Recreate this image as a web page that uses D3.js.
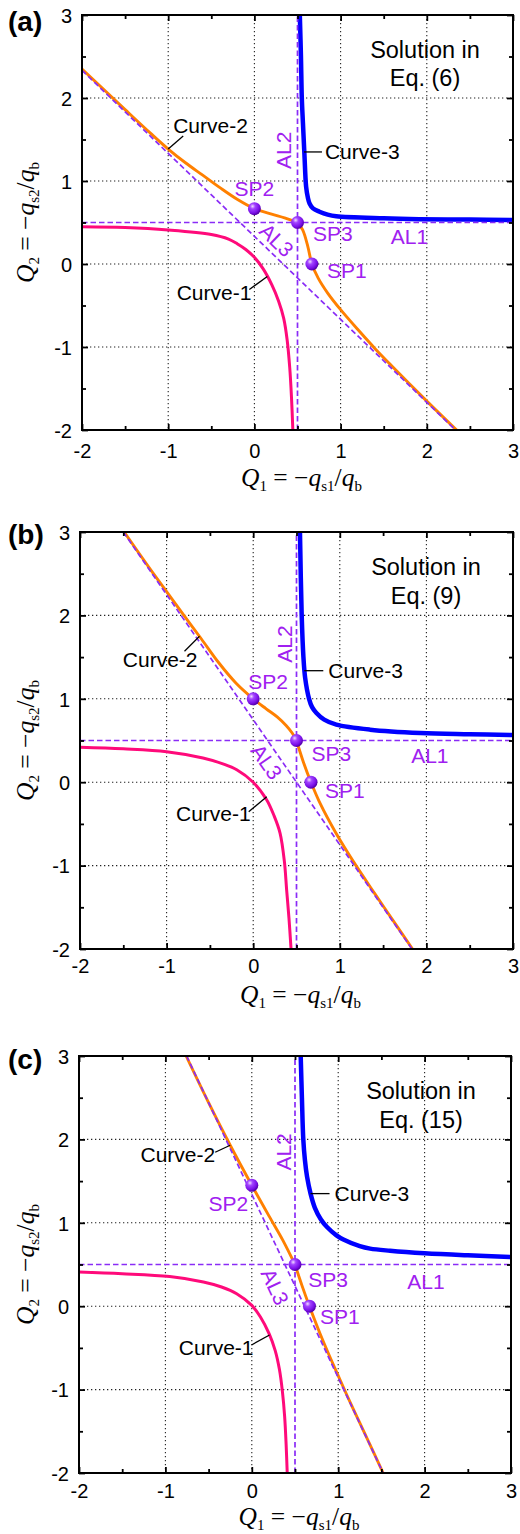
<!DOCTYPE html>
<html><head><meta charset="utf-8">
<script src="https://cdn.jsdelivr.net/npm/d3@7"></script>
<style>
html,body{margin:0;padding:0;background:#fff;}
svg{display:block;}
text{white-space:pre;}
</style></head><body>
<svg id="chart" width="520" height="1534"></svg>
<script>
// ---------------- DATA ----------------
const majorTicks = [-2, -1, 0, 1, 2, 3];
const minorTicks = [-1.5, -0.5, 0.5, 1.5, 2.5];
const tickLabels = ["-2", "-1", "0", "1", "2", "3"];
const panelLetters = ["(a)", "(b)", "(c)"];
const solutionLine1 = ["Solution in", "Solution in", "Solution in"];
const solutionLine2 = ["Eq. (6)", "Eq. (9)", "Eq. (15)"];
const curveNames = ["Curve-1", "Curve-2", "Curve-3"];
const pointNames = ["SP1", "SP2", "SP3"];
const lineNames = ["AL1", "AL2", "AL3"];

// asymptote AL1 (horizontal, Q2 value) and AL2 (vertical, Q1 value)
const al1Level = [0.5, 0.5, 0.5];
const al2Level = [0.5, 0.5, 0.5];

// ---- panel (a) ----
const al3A = [[-2, 2.333], [2.333, -2]];
const curve1A = [[-2,0.45],[-1.5,0.44],[-1,0.41],[-0.5,0.355],[-0.3,0.3],[-0.2,0.245],[-0.1,0.175],[0,0.08],[0.1,-0.055],[0.2,-0.245],[0.28,-0.445],[0.34,-0.655],[0.38,-0.915],[0.41,-1.25],[0.43,-1.6],[0.446,-2]];
const curve2UpperA = [[-2,2.35],[-1.5,1.86],[-1.2,1.57],[-1,1.385],[-0.8,1.22],[-0.6,1.07],[-0.4,0.92],[-0.2,0.78],[0,0.667],[0.2,0.6],[0.35,0.555],[0.5,0.5]];
const curve2LowerA = [[0.5,0.5],[0.56,0.41],[0.62,0.21],[0.667,0],[0.74,-0.17],[0.85,-0.35],[1.0,-0.55],[1.2,-0.79],[1.4,-1.02],[1.6,-1.235],[2,-1.652],[2.355,-2.01]];
const curve3A = [[0.527,3],[0.54,2.5],[0.55,2],[0.563,1.7],[0.58,1.33],[0.6,0.93],[0.62,0.8],[0.64,0.73],[0.68,0.67],[0.755,0.63],[0.85,0.595],[0.95,0.575],[1.5,0.55],[1.91,0.54],[2.5,0.535],[3,0.53]];
const spA = [[0.667,0],[0,0.667],[0.5,0.5]];

// ---- panel (b) ----
const al3B = [[-1.5, 3], [1.833, -2]];
const curve1B = [[-2,0.42],[-1.5,0.4],[-1,0.365],[-0.58,0.29],[-0.35,0.22],[-0.19,0.15],[0,0.0],[0.155,-0.21],[0.24,-0.4],[0.31,-0.61],[0.36,-0.95],[0.386,-1.29],[0.413,-1.63],[0.437,-2]];
const curve2UpperB = [[-1.49,3],[-1.2,2.57],[-1,2.285],[-0.8,2.0],[-0.6,1.72],[-0.4,1.435],[-0.2,1.19],[0,1.0],[0.15,0.88],[0.28,0.78],[0.38,0.68],[0.45,0.59],[0.5,0.5]];
const curve2LowerB = [[0.5,0.5],[0.58,0.24],[0.667,0],[0.78,-0.27],[0.95,-0.6],[1.15,-0.94],[1.4,-1.33],[1.6,-1.635],[1.84,-2]];
const curve3B = [[0.54,3],[0.56,2],[0.58,1.5],[0.6,1.25],[0.645,1.0],[0.68,0.9],[0.73,0.83],[0.82,0.75],[0.96,0.69],[1.35,0.63],[1.93,0.59],[2.5,0.575],[3,0.565]];
const spB = [[0.667,0],[0,1.0],[0.5,0.5]];

// ---- panel (c) ----
const al3C = [[-0.755, 3], [1.52, -2]];
const curve1C = [[-2,0.41],[-1.5,0.39],[-0.95,0.355],[-0.56,0.29],[-0.35,0.23],[-0.175,0.15],[0,0.01],[0.1,-0.13],[0.2,-0.33],[0.27,-0.53],[0.32,-0.76],[0.355,-1.03],[0.38,-1.32],[0.397,-1.65],[0.41,-2]];
const curve2UpperC = [[-0.76,3],[-0.5,2.44],[-0.25,1.93],[0,1.45],[0.2,1.08],[0.36,0.79],[0.5,0.5]];
const curve2LowerC = [[0.5,0.5],[0.58,0.25],[0.667,0],[0.83,-0.43],[1.02,-0.88],[1.175,-1.235],[1.35,-1.62],[1.52,-2]];
const curve3C = [[0.566,3],[0.58,2.5],[0.596,2],[0.615,1.75],[0.64,1.55],[0.68,1.35],[0.73,1.18],[0.8,1.04],[0.87,0.95],[0.98,0.85],[1.06,0.8],[1.25,0.72],[1.37,0.69],[1.6,0.665],[2,0.635],[2.5,0.61],[3,0.59]];
const spC = [[0.667,0],[0,1.45],[0.5,0.5]];

// --------------- build panels from the arrays ---------------
const panelData = [
  {al3: al3A, c1: curve1A, c2u: curve2UpperA, c2l: curve2LowerA, c3: curve3A, sp: spA},
  {al3: al3B, c1: curve1B, c2u: curve2UpperB, c2l: curve2LowerB, c3: curve3B, sp: spB},
  {al3: al3C, c1: curve1C, c2u: curve2UpperC, c2l: curve2LowerC, c3: curve3C, sp: spC}
];

// --------------- layout & style ---------------
const SANS = "'Liberation Sans', Arial, Helvetica, sans-serif";
const SERIF = "'Liberation Serif', 'Times New Roman', Times, serif";
const COL = {pink:"#ff0a7a", orange:"#ff8000", blue:"#0000ff", dash:"#8a2cf6", ptext:"#a020f0"};
const ANN = 21;

const layouts = [
  {left:82, right:513, top:15, bottom:430, xLabY:458, titleY:486, letterY:31, solX:425, solY:[58,86],
   curveLab:[{at:[0.15,-0.15], ld:[-18,13], tx:[-16,24], anc:"end"},
             {at:[-1,1.385], ld:[15,-13], tx:[5,-16], anc:"start"},
             {at:[0.575,1.35], ld:[18,0], tx:[21,7], anc:"start"}],
   spLab:[{d:[15,14],anc:"start"},{d:[0,-13],anc:"middle"},{d:[15.5,18.5],anc:"start"}],
   al1:[1.8,21], al2:[1.37,-14], al3:{at:[0.259,0.289], rot:44}},
  {left:80, right:513, top:532, bottom:949, xLabY:973, titleY:1003, letterY:544, solX:426, solY:[575,604],
   curveLab:[{at:[0.156,-0.174], ld:[-18,15], tx:[-16,24], anc:"end"},
             {at:[-0.62,1.75], ld:[-15,15], tx:[-2,31], anc:"end"},
             {at:[0.59,1.337], ld:[19,0], tx:[24,7], anc:"start"}],
   spLab:[{d:[14,16],anc:"start"},{d:[15,-10],anc:"middle"},{d:[15,20.5],anc:"start"}],
   al1:[2.04,22], al2:[1.657,-12.5], al3:{at:[0.156,0.246], rot:55}},
  {left:79, right:511, top:1056, bottom:1473, xLabY:1497.5, titleY:1525, letterY:1069, solX:421, solY:[1099,1128],
   curveLab:[{at:[0.205,-0.345], ld:[-18,10], tx:[-16,20], anc:"end"},
             {at:[-0.25,1.93], ld:[-15,7], tx:[-15,17], anc:"end"},
             {at:[0.68,1.35], ld:[19,0], tx:[24,7], anc:"start"}],
   spLab:[{d:[10.6,18],anc:"start"},{d:[-3.5,26],anc:"end"},{d:[13.3,22],anc:"start"}],
   al1:[2.016,24], al2:[1.85,-11.7], al3:{at:[0.269,0.234], rot:65}}
];

const svg = d3.select("#chart");
const defs = svg.append("defs");
const grad = defs.append("radialGradient").attr("id","ball").attr("cx","36%").attr("cy","32%").attr("r","68%");
grad.append("stop").attr("offset","0%").attr("stop-color","#f0dcff");
grad.append("stop").attr("offset","30%").attr("stop-color","#a244ff");
grad.append("stop").attr("offset","75%").attr("stop-color","#7a10e8");
grad.append("stop").attr("offset","100%").attr("stop-color","#5400a8");

function drawPanel(P, L, i) {
  const x = d3.scaleLinear().domain([-2, 3]).range([L.left, L.right]);
  const y = d3.scaleLinear().domain([-2, 3]).range([L.bottom, L.top]);
  const W = L.right - L.left, H = L.bottom - L.top;
  const g = svg.append("g");
  const cid = "clip" + i;
  defs.append("clipPath").attr("id", cid).append("rect")
    .attr("x", L.left).attr("y", L.top).attr("width", W).attr("height", H);

  // dotted grid
  const inner = majorTicks.filter(v => v > -2 && v < 3);
  g.append("g").selectAll("line").data(inner).join("line")
    .attr("x1", d => x(d)).attr("x2", d => x(d)).attr("y1", L.top).attr("y2", L.bottom)
    .attr("stroke", "#222").attr("stroke-width", 1.1).attr("stroke-dasharray", "1.3,2.7");
  g.append("g").selectAll("line").data(inner).join("line")
    .attr("y1", d => y(d)).attr("y2", d => y(d)).attr("x1", L.left).attr("x2", L.right)
    .attr("stroke", "#222").attr("stroke-width", 1.1).attr("stroke-dasharray", "1.3,2.7");

  const plot = g.append("g").attr("clip-path", `url(#${cid})`);
  const line = d3.line().x(d => x(d[0])).y(d => y(d[1])).curve(d3.curveCatmullRom.alpha(0.5));
  const straight = d3.line().x(d => x(d[0])).y(d => y(d[1]));

  // curves
  plot.append("path").attr("d", line(P.c1)).attr("fill","none").attr("stroke",COL.pink).attr("stroke-width",3);
  plot.append("path").attr("d", line(P.c3)).attr("fill","none").attr("stroke",COL.blue).attr("stroke-width",4.5);
  plot.append("path").attr("d", line(P.c2u)).attr("fill","none").attr("stroke",COL.orange).attr("stroke-width",2.9).attr("stroke-linejoin","round");
  plot.append("path").attr("d", line(P.c2l)).attr("fill","none").attr("stroke",COL.orange).attr("stroke-width",2.9).attr("stroke-linejoin","round");

  // asymptotes (dashed)
  const dashAttr = s => s.attr("fill","none").attr("stroke",COL.dash).attr("stroke-width",1.7).attr("stroke-dasharray","5.5,3");
  dashAttr(plot.append("path").attr("d", straight([[-2, al1Level[i]], [3, al1Level[i]]])));
  dashAttr(plot.append("path").attr("d", straight([[al2Level[i], -2], [al2Level[i], 3]])));
  dashAttr(plot.append("path").attr("d", straight(P.al3)));

  // special points
  plot.selectAll("circle.sp").data(P.sp).join("circle").attr("class","sp")
    .attr("cx", d => x(d[0])).attr("cy", d => y(d[1])).attr("r", 6.5).attr("fill","url(#ball)");

  // frame
  g.append("rect").attr("x", L.left).attr("y", L.top).attr("width", W).attr("height", H)
    .attr("fill","none").attr("stroke","#000").attr("stroke-width",2);

  // axes with inward ticks on all sides
  const fmt = d => tickLabels[majorTicks.indexOf(d)];
  const styleAxis = s => { s.select(".domain").remove(); s.selectAll("line").attr("stroke","#000").attr("stroke-width",1.8); };
  const bx = g.append("g").attr("transform",`translate(0,${L.bottom})`)
    .call(d3.axisBottom(x).tickValues(majorTicks).tickSize(-6).tickPadding(0).tickFormat(fmt));
  styleAxis(bx);
  bx.selectAll("text").attr("font-family",SANS).attr("font-size",20).attr("fill","#000")
    .attr("y", L.xLabY - L.bottom).attr("dy", null);
  const bxm = g.append("g").attr("transform",`translate(0,${L.bottom})`)
    .call(d3.axisBottom(x).tickValues(minorTicks).tickSize(-4).tickFormat(""));
  styleAxis(bxm);
  const tx = g.append("g").attr("transform",`translate(0,${L.top})`)
    .call(d3.axisTop(x).tickValues(majorTicks).tickSize(-6).tickFormat(""));
  styleAxis(tx);
  const txm = g.append("g").attr("transform",`translate(0,${L.top})`)
    .call(d3.axisTop(x).tickValues(minorTicks).tickSize(-4).tickFormat(""));
  styleAxis(txm);
  const ly = g.append("g").attr("transform",`translate(${L.left},0)`)
    .call(d3.axisLeft(y).tickValues(majorTicks).tickSize(-6).tickPadding(10).tickFormat(fmt));
  styleAxis(ly);
  ly.selectAll("text").attr("font-family",SANS).attr("font-size",20).attr("fill","#000").attr("x",-10).attr("dy","0.36em");
  const lym = g.append("g").attr("transform",`translate(${L.left},0)`)
    .call(d3.axisLeft(y).tickValues(minorTicks).tickSize(-4).tickFormat(""));
  styleAxis(lym);
  const ry = g.append("g").attr("transform",`translate(${L.right},0)`)
    .call(d3.axisRight(y).tickValues(majorTicks).tickSize(-6).tickFormat(""));
  styleAxis(ry);
  const rym = g.append("g").attr("transform",`translate(${L.right},0)`)
    .call(d3.axisRight(y).tickValues(minorTicks).tickSize(-4).tickFormat(""));
  styleAxis(rym);

  // axis titles
  function title(parent, sub1, sub2) {
    const t = parent.append("text").attr("font-family", SERIF).attr("font-size", 25.5).attr("text-anchor","middle").attr("fill","#000");
    t.append("tspan").attr("font-style","italic").text("Q");
    t.append("tspan").attr("font-size",15).attr("dy",5).text(sub1);
    t.append("tspan").attr("dy",-5).text(" = \u2212");
    t.append("tspan").attr("font-style","italic").text("q");
    t.append("tspan").attr("font-size",15).attr("dy",5).text(sub2);
    t.append("tspan").attr("dy",-5).text("/");
    t.append("tspan").attr("font-style","italic").text("q");
    t.append("tspan").attr("font-size",15).attr("dy",5).text("b");
    return t;
  }
  title(g, "1", "s1").attr("x", (L.left + L.right) / 2 + 4).attr("y", L.titleY);
  title(g, "2", "s2").attr("transform", `translate(34,${(L.top + L.bottom) / 2}) rotate(-90)`);

  // panel letter
  g.append("text").attr("x", 8).attr("y", L.letterY).attr("font-family", SANS).attr("font-weight","bold")
    .attr("font-size", 28).attr("fill","#000").text(panelLetters[i]);

  // solution text
  g.append("text").attr("x", L.solX).attr("y", L.solY[0]).attr("text-anchor","middle")
    .attr("font-family", SANS).attr("font-size", 23.5).attr("fill","#000").text(solutionLine1[i]);
  g.append("text").attr("x", L.solX).attr("y", L.solY[1]).attr("text-anchor","middle")
    .attr("font-family", SANS).attr("font-size", 23.5).attr("fill","#000").text(solutionLine2[i]);

  // curve labels with leaders
  L.curveLab.forEach((c, k) => {
    const px = x(c.at[0]), py = y(c.at[1]);
    g.append("line").attr("x1", px).attr("y1", py).attr("x2", px + c.ld[0]).attr("y2", py + c.ld[1])
      .attr("stroke","#000").attr("stroke-width",1.3);
    g.append("text").attr("x", px + c.tx[0]).attr("y", py + c.tx[1]).attr("text-anchor", c.anc)
      .attr("font-family", SANS).attr("font-size", ANN).attr("fill","#000").text(curveNames[k]);
  });

  // special point labels
  L.spLab.forEach((s, k) => {
    g.append("text").attr("x", x(P.sp[k][0]) + s.d[0]).attr("y", y(P.sp[k][1]) + s.d[1]).attr("text-anchor", s.anc)
      .attr("font-family", SANS).attr("font-size", ANN).attr("fill", COL.ptext).text(pointNames[k]);
  });

  // asymptote labels
  g.append("text").attr("x", x(L.al1[0])).attr("y", y(al1Level[i]) + L.al1[1]).attr("text-anchor","middle")
    .attr("font-family", SANS).attr("font-size", ANN).attr("fill", COL.ptext).text(lineNames[0]);
  g.append("text").attr("transform", `translate(${x(al2Level[i]) + L.al2[1]},${y(L.al2[0])}) rotate(-90)`)
    .attr("text-anchor","middle").attr("dy","0.36em")
    .attr("font-family", SANS).attr("font-size", ANN).attr("fill", COL.ptext).text(lineNames[1]);
  g.append("text").attr("transform", `translate(${x(L.al3.at[0])},${y(L.al3.at[1])}) rotate(${L.al3.rot})`)
    .attr("text-anchor","middle").attr("dy","0.36em")
    .attr("font-family", SANS).attr("font-size", ANN).attr("fill", COL.ptext).text(lineNames[2]);
}

panelData.forEach((P, i) => drawPanel(P, layouts[i], i));
</script>
</body></html>
